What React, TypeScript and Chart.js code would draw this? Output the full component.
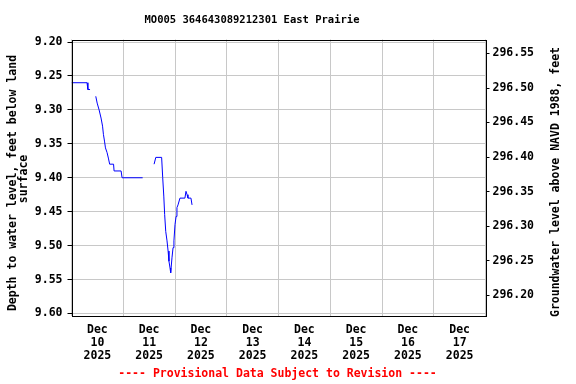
import React, { useEffect, useRef } from "react";
import { Chart, registerables } from "chart.js";

Chart.register(...registerables);

// Hours since Dec 10 2025 00:00
const hours = [
  0, 7.2, 7.6, 8.6, 10,
  11.26, 11.9, 12.8, 13.7, 14.4, 14.8, 15.3, 15.75, 16.5, 17.1, 17.7, 19.5, 19.75, 23.0, 23.45, 33.0, 35,
  38.3, 39.1, 41.8, 42.3, 42.8, 43.2, 43.7, 44.3, 44.8, 45.2, 45.7, 46.0, 46.6, 47.1, 47.5, 48.0, 48.5, 48.9,
  49.4, 50.3, 52.6, 53.1, 53.6, 54.0, 55.4, 55.9,
];
// Depth to water level, feet below land surface (null = gap)
const depths: (number | null)[] = [
  9.26, 9.26, 9.27, 9.27, null,
  9.28, 9.29, 9.3, 9.312, 9.324, 9.336, 9.346, 9.356, 9.363, 9.371, 9.38, 9.38, 9.39, 9.39, 9.4, 9.4, null,
  9.38, 9.37, 9.37, 9.4, 9.427, 9.454, 9.479, 9.493, 9.508, 9.523, 9.533, 9.54, 9.518, 9.503, 9.493, 9.469, 9.457, 9.444,
  9.44, 9.43, 9.43, 9.42, 9.425, 9.43, 9.43, 9.44,
];
const leftTicks = [9.2, 9.25, 9.3, 9.35, 9.4, 9.45, 9.5, 9.55, 9.6];
const rightTicks = [296.2, 296.25, 296.3, 296.35, 296.4, 296.45, 296.5, 296.55];
const xTickHours = [0, 12, 24, 36, 48, 60, 72, 84, 96, 108, 120, 132, 144, 156, 168, 180, 192];
const dayLabels = ["10", "11", "12", "13", "14", "15", "16", "17"];
const monthLabel = "Dec";
const yearLabel = "2025";
const titleText = "MO005 364643089212301 East Prairie";
const footerText = "---- Provisional Data Subject to Revision ----";
const leftTitle1 = "Depth to water level, feet below land";
const leftTitle2 = "surface";
const rightTitle = "Groundwater level above NAVD 1988, feet";

const FAMILY = '"DejaVu Sans Mono", monospace';

const textPlugin = {
  id: "texts",
  afterDraw(chart: any) {
    const ctx = chart.ctx;
    const a = chart.chartArea;
    ctx.save();
    // frame
    ctx.strokeStyle = "#000";
    ctx.lineWidth = 1;
    ctx.strokeRect(
      Math.round(a.left) + 0.5,
      Math.round(a.top) + 0.5,
      Math.round(a.right) - Math.round(a.left),
      Math.round(a.bottom) - Math.round(a.top)
    );
    ctx.textAlign = "center";
    ctx.textBaseline = "middle";
    ctx.fillStyle = "#000";
    ctx.font = `bold 10.5px ${FAMILY}`;
    ctx.fillText(titleText, 252, 20);
    ctx.font = `bold 11.5px ${FAMILY}`;
    ctx.fillStyle = "#ff0000";
    ctx.fillText(footerText, 277.5, 374.5);
    ctx.fillStyle = "#000";
    ctx.save();
    ctx.translate(13.5, 183);
    ctx.rotate(-Math.PI / 2);
    ctx.fillText(leftTitle1, 0, 0);
    ctx.restore();
    ctx.save();
    ctx.translate(24.5, 179);
    ctx.rotate(-Math.PI / 2);
    ctx.fillText(leftTitle2, 0, 0);
    ctx.restore();
    ctx.save();
    ctx.translate(556.5, 182);
    ctx.rotate(-Math.PI / 2);
    ctx.fillText(rightTitle, 0, 0);
    ctx.restore();
    ctx.restore();
  },
};

export default function App() {
  const ref = useRef<HTMLCanvasElement | null>(null);
  useEffect(() => {
    document.body.style.margin = "0";
    const canvas = ref.current!;
    const tickFont = { family: FAMILY, size: 11.5, weight: "bold" as const, lineHeight: 13 / 11.5 };
    const chart = new Chart(canvas, {
      type: "line",
      data: {
        datasets: [
          {
            data: hours.map((h, i) => ({ x: h, y: depths[i] as any })),
            borderColor: "#0000ff",
            borderWidth: 1,
            pointRadius: 0,
            tension: 0,
            spanGaps: false,
            fill: false,
            yAxisID: "y",
          },
        ],
      },
      options: {
        animation: false,
        responsive: false,
        devicePixelRatio: 1,
        layout: { padding: { top: 39.5, left: 0, right: 0, bottom: 0 } },
        plugins: { legend: { display: false }, tooltip: { enabled: false }, title: { display: false } },
        scales: {
          x: {
            type: "linear",
            min: 0,
            max: 192,
            afterBuildTicks: (s: any) => {
              s.ticks = xTickHours.map((v) => ({ value: v }));
            },
            afterFit: (s: any) => {
              s.height = 68;
            },
            border: { display: false },
            grid: {
              drawTicks: false,
              color: (c: any) => (c.tick && c.tick.value % 24 === 0 ? "#c8c8c8" : "rgba(0,0,0,0)"),
              lineWidth: 1,
            },
            ticks: {
              autoSkip: false,
              maxRotation: 0,
              minRotation: 0,
              padding: 7.5,
              color: "#000",
              font: tickFont,
              callback: (v: any) => {
                const n = Number(v);
                if (n % 24 !== 12) return "";
                const d = Math.floor(n / 24);
                return [monthLabel, dayLabels[d], yearLabel];
              },
            },
          },
          y: {
            type: "linear",
            position: "left",
            reverse: true,
            min: 9.1963,
            max: 9.6037,
            afterBuildTicks: (s: any) => {
              s.ticks = leftTicks.map((v) => ({ value: v }));
            },
            afterFit: (s: any) => {
              s.width = 71.5;
            },
            border: { display: false },
            grid: { color: "#c8c8c8", tickColor: "#000", tickLength: 4, lineWidth: 1 },
            ticks: {
              padding: 5,
              color: "#000",
              font: tickFont,
              callback: (v: any) => Number(v).toFixed(2),
            },
          },
          y2: {
            type: "linear",
            position: "right",
            min: 296.1696,
            max: 296.5703,
            afterBuildTicks: (s: any) => {
              s.ticks = rightTicks.map((v) => ({ value: v }));
            },
            afterFit: (s: any) => {
              s.width = 90.5;
            },
            border: { display: false },
            grid: { drawOnChartArea: false, tickColor: "#000", tickLength: 4, lineWidth: 1 },
            ticks: {
              padding: 3,
              color: "#000",
              font: tickFont,
              callback: (v: any) => Number(v).toFixed(2),
            },
          },
        },
      },
      plugins: [textPlugin],
    });
    return () => chart.destroy();
  }, []);
  return <canvas ref={ref} width={576} height={384} style={{ display: "block", width: 576, height: 384 }} />;
}
